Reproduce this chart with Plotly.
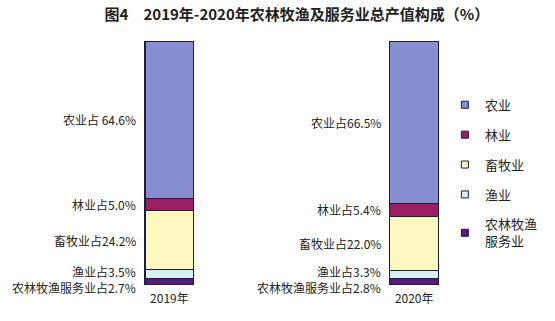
import plotly.graph_objects as go

years = ["2019年", "2020年"]
# stack order bottom -> top
series_names = ["农林牧渔服务业", "渔业", "畜牧业", "林业", "农业"]
legend_names = ["农林牧渔<br>服务业", "渔业", "畜牧业", "林业", "农业"]
label_prefix = ["农林牧渔服务业占", "渔业占", "畜牧业占", "林业占", "农业占"]
values_2019 = [2.7, 3.5, 24.2, 5.0, 64.6]
values_2020 = [2.8, 3.3, 22.0, 5.4, 66.5]
colors = ["#5a1c7c", "#d8f0ef", "#fdf7c0", "#9c1f66", "#888ecf"]

font_cjk = "Noto Sans CJK SC"
fig = go.Figure()

for i, name in enumerate(series_names):
    fig.add_trace(go.Bar(
        x=years, y=[values_2019[i], values_2020[i]], name=name,
        marker=dict(color=colors[i], line=dict(color="#1c1c3c", width=1.2)),
        width=0.2, showlegend=False,
    ))

# legend entries (top -> bottom)
for i in reversed(range(len(series_names))):
    fig.add_trace(go.Scatter(
        x=[None], y=[None], mode="markers", name=legend_names[i],
        marker=dict(symbol="square", size=7, color=colors[i],
                    line=dict(color="#1c1c3c", width=1)),
        legendgroup=series_names[i],
    ))

# segment labels
label_yshift = [-6, 3, 0, 0, 0]
for vals, yr in [(values_2019, years[0]), (values_2020, years[1])]:
    cum = 0
    for i, v in enumerate(vals):
        mid = cum + v / 2
        cum += v
        txt = f"{label_prefix[i]}{v:.1f}%"
        if i == 4 and yr == years[0]:
            txt = f"{label_prefix[i]} {v:.1f}%"
        fig.add_annotation(x=yr, y=mid, text=txt, showarrow=False,
                           xanchor="right", yanchor="middle", xshift=-31,
                           yshift=label_yshift[i],
                           font=dict(family=font_cjk, size=12, color="#222"))

fig.update_layout(
    width=555, height=321,
    margin=dict(l=47, r=100, t=41, b=36),
    paper_bgcolor="white", plot_bgcolor="white",
    barmode="stack",
    title=dict(text="<b>图4　2019年-2020年农林牧渔及服务业总产值构成（%）</b>",
               x=0.535, xanchor="center", y=0.953, yanchor="middle",
               font=dict(family=font_cjk, size=15, color="#222")),
    xaxis=dict(range=[-0.5, 1.1585], showgrid=False, showline=False, zeroline=False,
               ticks="", ticklabelstandoff=5,
               tickfont=dict(family=font_cjk, size=12, color="#222")),
    yaxis=dict(range=[0, 100], visible=False),
    legend=dict(x=0.98, y=0.8, xanchor="left", yanchor="top",
                traceorder="grouped", tracegroupgap=10,
                font=dict(family=font_cjk, size=13, color="#222"),
                itemwidth=30, bgcolor="rgba(0,0,0,0)"),
    showlegend=True,
)

fig.write_html("out.html")
